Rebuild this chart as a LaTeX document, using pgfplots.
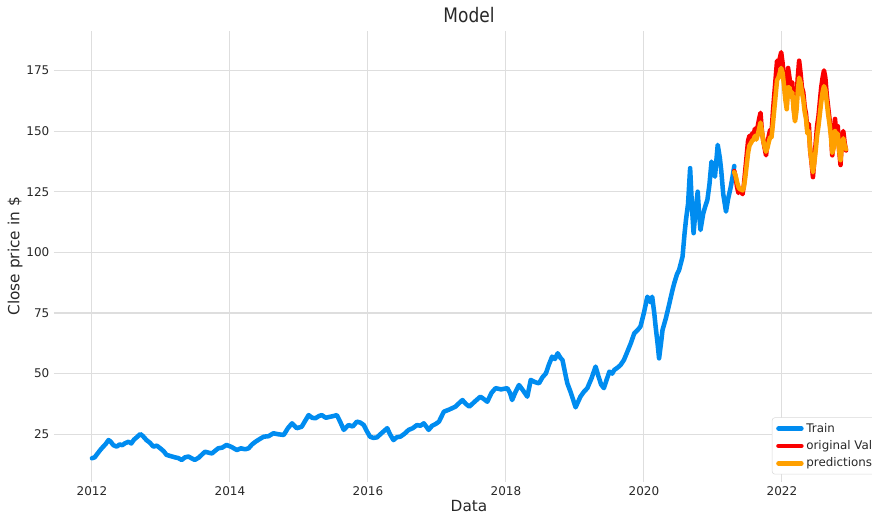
\documentclass[border=0pt]{standalone}
\usepackage{fontspec}
\setmainfont{DejaVu Sans}
\newfontfamily\titlefont[FakeStretch=0.85]{DejaVu Sans}
\usepackage{pgfplots}
\pgfplotsset{compat=1.18}

\definecolor{trainblue}{RGB}{0,140,240}
\definecolor{valred}{RGB}{250,0,0}
\definecolor{predorange}{RGB}{255,160,0}
\definecolor{gridgray}{RGB}{222,222,222}
\definecolor{txt}{RGB}{40,40,40}

\begin{document}
\begin{tikzpicture}
\useasboundingbox (0,0) rectangle (654pt,389.25pt);
\clip (0,0) rectangle (654pt,389.25pt);
\begin{axis}[
  at={(40.5pt,28pt)}, anchor=south west,
  scale only axis,
  width=622.5pt, height=338pt,
  xmin=2011.45, xmax=2023.48,
  ymin=5.45, ymax=191.25,
  xtick={2012,2014,...,2022},
  ytick={25,50,...,175},
  /pgf/number format/1000 sep={},
  /pgf/number format/assume math mode=true,
  ticklabel style={font=\fontsize{9}{10}\selectfont, text=txt},
  axis line style={draw=none},
  major tick length=0pt,
  grid=major,
  grid style={gridgray, line width=0.8pt},
  xlabel={Data},
  ylabel={Close price in \$},
  xlabel style={font=\fontsize{11.5}{12}\selectfont, text=txt, yshift=3pt},
  ylabel style={font=\fontsize{11.5}{12}\selectfont, text=txt, yshift=-4pt},
  title={Model},
  title style={font=\titlefont\fontsize{15}{16}\selectfont, text=txt, yshift=-3pt},
  legend style={at={(0.865,0.016)}, anchor=south west,
    font=\fontsize{8.9}{10}\selectfont, text=txt,
    draw=gray!30, rounded corners=2pt, row sep=0.8pt,
    inner xsep=3pt, inner ysep=2pt},
  legend cell align=left,
  legend image code/.code={\draw[line width=3.6pt] (0pt,0pt) -- (17pt,0pt);},
  every axis plot/.append style={line width=3.4pt, line join=round, line cap=round},
]
\addplot[trainblue, mark=none] coordinates {
(2012.00,15.1) (2012.04,15.5) (2012.08,17.0) (2012.12,18.5) (2012.16,19.8) (2012.20,21.0)
(2012.24,22.6) (2012.27,22.0) (2012.31,20.5) (2012.36,19.9) (2012.40,20.8) (2012.44,20.5)
(2012.48,21.3) (2012.53,21.9) (2012.57,21.2) (2012.61,22.8) (2012.66,24.0) (2012.70,25.1)
(2012.74,24.2) (2012.79,22.6) (2012.84,21.5) (2012.89,19.9) (2012.94,20.3) (2012.99,19.2)
(2013.04,18.0) (2013.08,16.5) (2013.14,16.0) (2013.20,15.5) (2013.25,15.2) (2013.30,14.4)
(2013.35,15.5) (2013.40,15.8) (2013.45,15.0) (2013.49,14.4) (2013.55,15.4) (2013.60,16.8)
(2013.64,17.8) (2013.69,17.4) (2013.74,17.1) (2013.79,18.3) (2013.83,19.2) (2013.89,19.5)
(2013.95,20.6) (2014.02,19.8) (2014.10,18.5) (2014.16,19.2) (2014.22,18.8) (2014.27,19.2)
(2014.32,20.8) (2014.37,21.9) (2014.43,23.0) (2014.49,24.0) (2014.56,24.2) (2014.63,25.4)
(2014.70,25.0) (2014.78,24.7) (2014.84,27.5) (2014.90,29.5) (2014.97,27.5) (2015.04,28.1)
(2015.09,30.5) (2015.14,32.9) (2015.19,31.8) (2015.24,31.6) (2015.29,32.5) (2015.33,32.9)
(2015.39,31.8) (2015.45,32.2) (2015.50,32.5) (2015.55,32.9) (2015.60,30.0) (2015.65,26.8)
(2015.69,28.0) (2015.72,28.8) (2015.78,28.2) (2015.84,30.2) (2015.89,29.8) (2015.94,28.8)
(2015.98,26.5) (2016.03,24.0) (2016.08,23.5) (2016.13,23.7) (2016.20,25.5) (2016.28,27.5)
(2016.32,25.0) (2016.37,22.6) (2016.42,23.8) (2016.47,24.0) (2016.53,25.2) (2016.59,26.8)
(2016.65,27.5) (2016.71,28.8) (2016.76,28.5) (2016.81,29.5) (2016.85,28.0) (2016.88,26.8)
(2016.93,28.5) (2016.98,29.2) (2017.03,30.2) (2017.10,34.3) (2017.18,35.2) (2017.27,36.4)
(2017.32,37.8) (2017.37,39.1) (2017.42,37.5) (2017.47,36.4) (2017.55,38.5) (2017.63,40.5)
(2017.68,39.5) (2017.73,38.4) (2017.79,42.0) (2017.85,44.0) (2017.93,43.5) (2018.02,44.0)
(2018.06,42.0) (2018.09,39.1) (2018.14,42.5) (2018.19,45.3) (2018.25,43.0) (2018.31,40.5)
(2018.36,47.4) (2018.42,46.5) (2018.48,46.0) (2018.53,48.5) (2018.58,50.1) (2018.62,53.5)
(2018.67,57.0) (2018.71,56.0) (2018.75,58.4) (2018.79,56.5) (2018.82,55.6) (2018.86,50.0)
(2018.89,46.0) (2018.93,43.0) (2018.96,40.5) (2019.01,36.1) (2019.04,38.0) (2019.08,40.5)
(2019.13,42.5) (2019.18,44.0) (2019.24,48.0) (2019.30,52.9) (2019.34,49.0) (2019.38,45.5)
(2019.42,44.0) (2019.46,47.5) (2019.50,50.8) (2019.54,50.0) (2019.57,51.5) (2019.62,52.5)
(2019.66,53.5) (2019.71,55.6) (2019.76,59.0) (2019.81,62.5) (2019.86,66.6) (2019.91,68.0)
(2019.95,69.4) (2020.00,75.0) (2020.05,81.7) (2020.09,79.5) (2020.12,81.7) (2020.15,75.0)
(2020.17,69.4) (2020.20,62.0) (2020.22,56.3) (2020.25,63.0) (2020.27,68.0) (2020.32,73.0)
(2020.37,79.0) (2020.41,84.0) (2020.44,87.3) (2020.48,91.0) (2020.51,92.7) (2020.54,96.0)
(2020.56,98.2) (2020.59,108.0) (2020.61,113.4) (2020.64,120.0) (2020.67,134.7) (2020.70,117.0)
(2020.72,107.9) (2020.75,118.0) (2020.78,125.0) (2020.80,116.0) (2020.82,109.2) (2020.86,116.0)
(2020.89,119.0) (2020.92,121.6) (2020.95,128.0) (2020.98,137.4) (2021.01,133.0) (2021.03,131.2)
(2021.07,144.3) (2021.10,139.0) (2021.12,134.0) (2021.15,124.0) (2021.19,116.8) (2021.22,122.0)
(2021.26,127.1) (2021.29,132.0) (2021.31,135.6)
};
\addlegendentry{Train}
\addplot[valred, mark=none] coordinates {
(2021.31,133.5) (2021.33,131) (2021.35,127) (2021.37,124.5) (2021.39,126) (2021.41,125)
(2021.43,124) (2021.45,128) (2021.47,134) (2021.49,140) (2021.51,146) (2021.53,148)
(2021.55,147) (2021.57,149) (2021.59,148.5) (2021.61,151) (2021.63,147) (2021.65,152)
(2021.67,155) (2021.69,157.5) (2021.71,150) (2021.73,146) (2021.75,143) (2021.77,140)
(2021.79,145) (2021.81,148) (2021.83,150.5) (2021.85,149) (2021.87,158) (2021.89,165)
(2021.91,172) (2021.93,179) (2021.95,177) (2021.97,180) (2021.99,182.5) (2022.01,178)
(2022.03,172) (2022.05,165) (2022.07,161) (2022.09,176) (2022.11,172) (2022.13,166)
(2022.15,170) (2022.17,160) (2022.19,155) (2022.21,162) (2022.23,172) (2022.25,179)
(2022.27,174) (2022.29,168) (2022.31,166) (2022.33,160) (2022.35,157) (2022.37,150)
(2022.39,153) (2022.41,142) (2022.43,137) (2022.45,131) (2022.47,138) (2022.49,145)
(2022.51,152) (2022.53,156) (2022.55,162) (2022.57,168) (2022.59,172) (2022.61,175)
(2022.63,172) (2022.65,165) (2022.67,160) (2022.69,155) (2022.71,150) (2022.73,140)
(2022.75,145) (2022.77,155) (2022.79,148) (2022.81,152) (2022.83,142) (2022.85,136)
(2022.87,147) (2022.89,150) (2022.91,145) (2022.93,142)
};
\addlegendentry{original Val}
\addplot[predorange, mark=none] coordinates {
(2021.31,133) (2021.33,131.5) (2021.35,129) (2021.37,127) (2021.39,126) (2021.41,126)
(2021.43,125.5) (2021.45,127) (2021.47,131) (2021.49,136) (2021.51,141) (2021.53,144)
(2021.55,145) (2021.57,146) (2021.59,146.5) (2021.61,148) (2021.63,146.5) (2021.65,148.5)
(2021.67,151) (2021.69,153.5) (2021.71,150) (2021.73,146) (2021.75,143.5) (2021.77,141.5)
(2021.79,143) (2021.81,145.5) (2021.83,147.5) (2021.85,147.5) (2021.87,153) (2021.89,159)
(2021.91,165) (2021.93,171) (2021.95,172) (2021.97,174) (2021.99,176) (2022.01,174)
(2022.03,169) (2022.05,163) (2022.07,159) (2022.09,168) (2022.11,168) (2022.13,164)
(2022.15,166) (2022.17,159) (2022.19,154) (2022.21,158) (2022.23,166) (2022.25,172)
(2022.27,170) (2022.29,166) (2022.31,163) (2022.33,158) (2022.35,155) (2022.37,149)
(2022.39,150) (2022.41,142) (2022.43,137.5) (2022.45,133) (2022.47,137) (2022.49,142)
(2022.51,148) (2022.53,152) (2022.55,157) (2022.57,162) (2022.59,166) (2022.61,168.5)
(2022.63,167) (2022.65,162) (2022.67,157) (2022.69,153) (2022.71,148) (2022.73,141)
(2022.75,143) (2022.77,150) (2022.79,146) (2022.81,149) (2022.83,142) (2022.85,138)
(2022.87,144) (2022.89,147) (2022.91,144) (2022.93,142.5)
};
\addlegendentry{predictions}
\end{axis}
\end{tikzpicture}
\end{document}
